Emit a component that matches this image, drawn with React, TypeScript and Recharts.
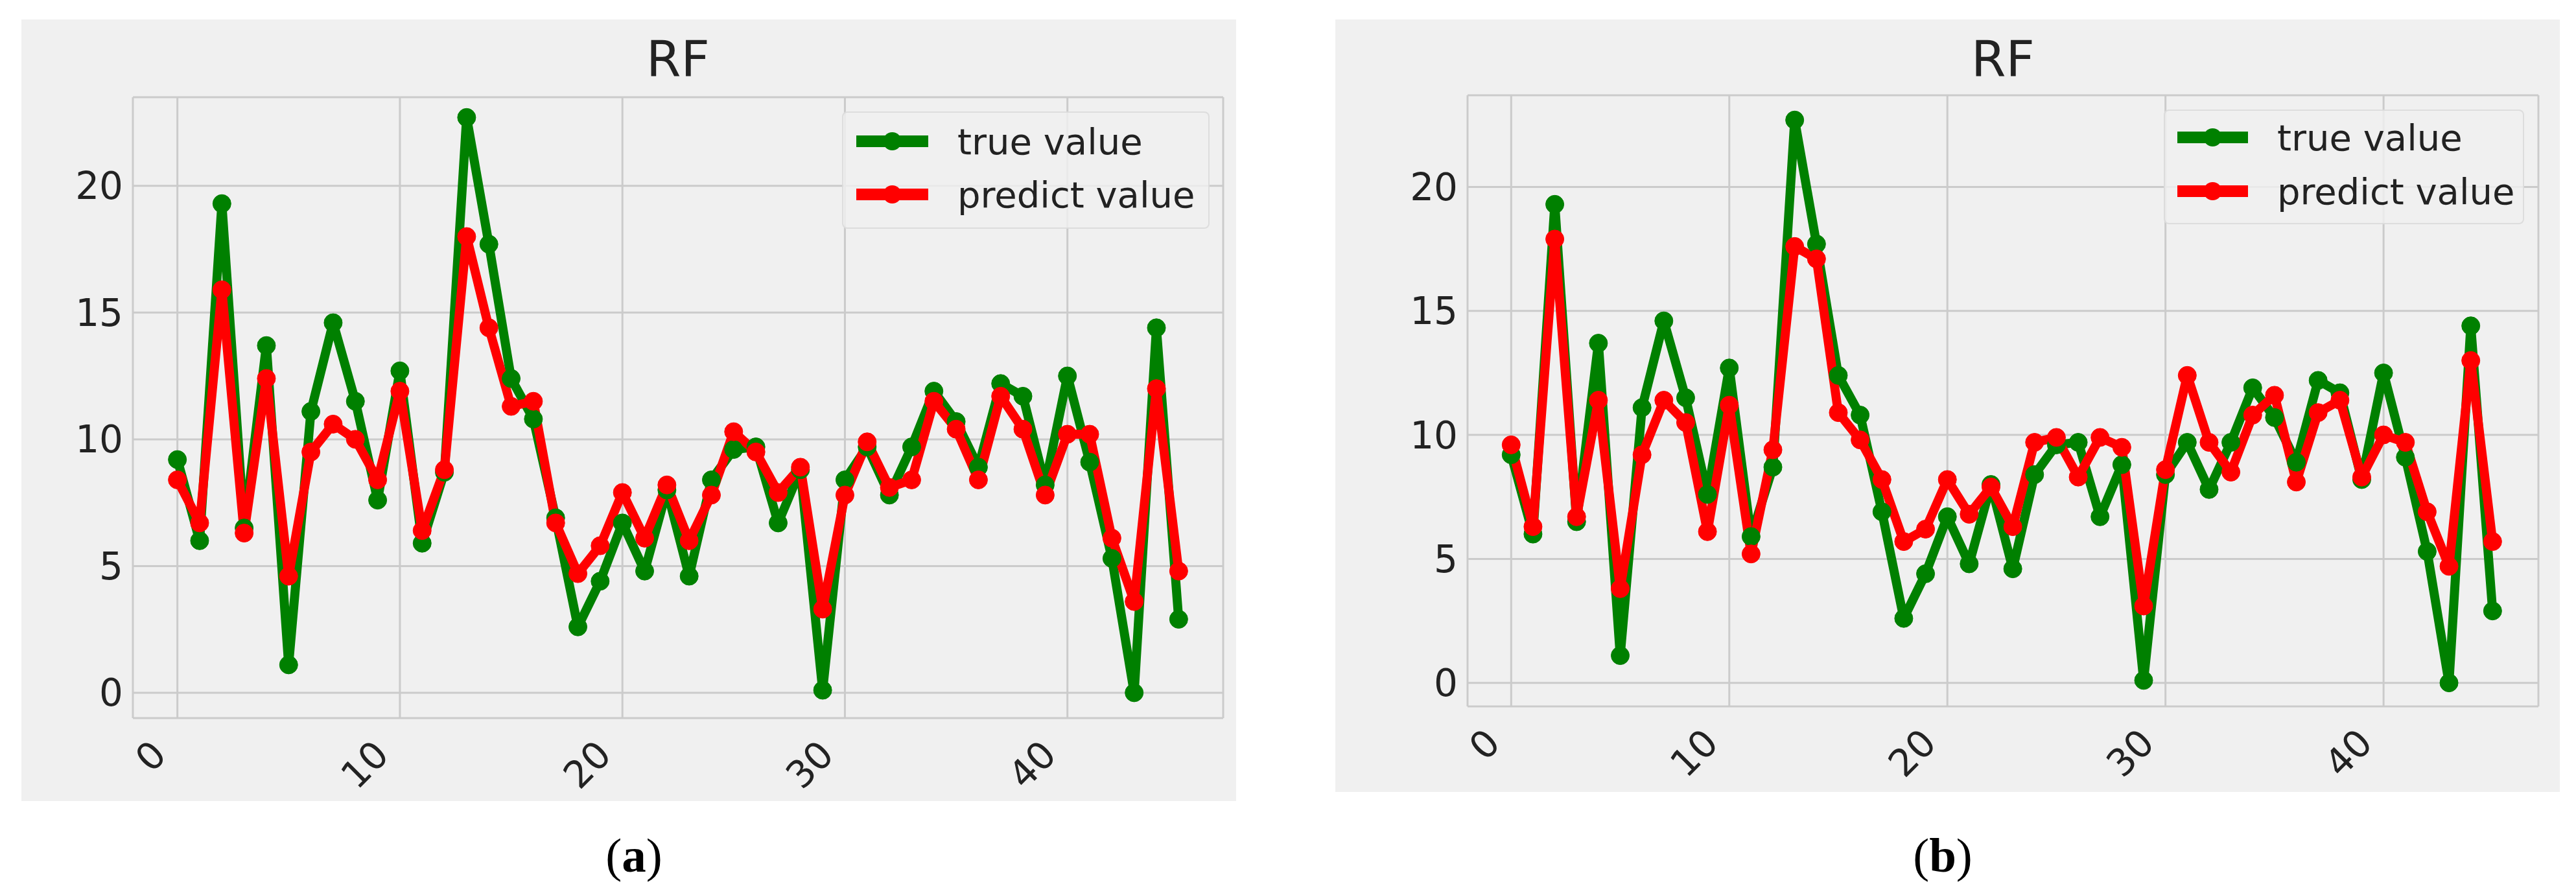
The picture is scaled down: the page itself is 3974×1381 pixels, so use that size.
import React from 'react'
import { LineChart, Line, XAxis, YAxis, CartesianGrid, Legend } from 'recharts'

// values, sample index 0..45
const trueValue = [
  9.2, 6.0, 19.3, 6.5, 13.7, 1.1, 11.1, 14.6, 11.5, 7.6,
  12.7, 5.9, 8.7, 22.7, 17.7, 12.4, 10.8, 6.9, 2.6, 4.4,
  6.7, 4.8, 8.0, 4.6, 8.4, 9.6, 9.7, 6.7, 8.8, 0.1,
  8.4, 9.7, 7.8, 9.7, 11.9, 10.7, 8.9, 12.2, 11.7, 8.2,
  12.5, 9.1, 5.3, 0.0, 14.4, 2.9,
]
const predictA = [
  8.4, 6.7, 15.9, 6.3, 12.4, 4.6, 9.5, 10.6, 10.0, 8.4,
  11.9, 6.4, 8.8, 18.0, 14.4, 11.3, 11.5, 6.7, 4.7, 5.8,
  7.9, 6.1, 8.2, 6.0, 7.8, 10.3, 9.5, 7.9, 8.9, 3.3,
  7.8, 9.9, 8.1, 8.4, 11.5, 10.4, 8.4, 11.7, 10.4, 7.8,
  10.2, 10.2, 6.1, 3.6, 12.0, 4.8,
]
const predictB = [
  9.6, 6.3, 17.9, 6.7, 11.4, 3.8, 9.2, 11.4, 10.5, 6.1,
  11.2, 5.2, 9.4, 17.6, 17.1, 10.9, 9.8, 8.2, 5.7, 6.2,
  8.2, 6.8, 7.9, 6.3, 9.7, 9.9, 8.3, 9.9, 9.5, 3.1,
  8.6, 12.4, 9.7, 8.5, 10.8, 11.6, 8.1, 10.9, 11.4, 8.3,
  10.0, 9.7, 6.9, 4.7, 13.0, 5.7,
]
const xTicks = [0, 10, 20, 30, 40]
const yTicks = [0, 5, 10, 15, 20]
const seriesNames = ['true value', 'predict value']
const panelTitles = ['RF', 'RF']
const captions = ['a', 'b']

const GREEN = '#008000'
const RED = '#ff0000'
const TEXT = '#222222'
const FONT = '"DejaVu Sans", sans-serif'

const panels = [
  {
    predict: predictA,
    left: 33, top: 30, width: 1874, height: 1206,
    marginRight: 20, marginTop: 120, yAxisWidth: 172, xAxisHeight: 128,
    xDomain: [-2, 47], yDomain: [-1, 23.5],
    legend: { left: 1266, top: 142, width: 567, height: 181, x0: 22, x1: 133, rows: [46, 128], textX: 178 },
    titleX: 1046, captionX: 978,
  },
  {
    predict: predictB,
    left: 2060, top: 30, width: 1889, height: 1192,
    marginRight: 33, marginTop: 117, yAxisWidth: 204, xAxisHeight: 132,
    xDomain: [-2, 47.1], yDomain: [-0.95, 23.7],
    legend: { left: 1278, top: 139, width: 556, height: 177, x0: 21, x1: 130, rows: [43, 126], textX: 175 },
    titleX: 3090, captionX: 2997,
  },
]

function RotatedTick(props: any) {
  const { x, y, payload } = props
  const ax = x - 14
  const ay = y + 60
  return (
    <text
      x={ax}
      y={ay}
      textAnchor="end"
      transform={`rotate(-45 ${ax} ${ay})`}
      fill={TEXT}
      fontSize={58}
      fontFamily={FONT}
    >
      {payload.value}
    </text>
  )
}

function makeLegend(lg: any) {
  return (props: any) => {
    // keep the plotting order: true value first
    const items = [...(props.payload || [])].sort(
      (a: any, b: any) => seriesNames.indexOf(a.value) - seriesNames.indexOf(b.value)
    )
    return (
      <div
        style={{
          width: lg.width,
          height: lg.height,
          boxSizing: 'border-box',
          background: 'rgba(240,240,240,0.8)',
          border: '2px solid rgba(215,215,215,0.8)',
          borderRadius: 8,
        }}
      >
        <svg width={lg.width} height={lg.height} style={{ position: 'absolute', left: 0, top: 0 }}>
          {items.map((it: any, i: number) => {
            const yy = lg.rows[i]
            return (
              <g key={it.value}>
                <line x1={lg.x0} x2={lg.x1} y1={yy} y2={yy} stroke={it.color} strokeWidth={18} />
                <circle cx={(lg.x0 + lg.x1) / 2} cy={yy} r={14} fill={it.color} />
                <text x={lg.textX} y={yy + 20} fontSize={56} fontFamily={FONT} fill={TEXT}>
                  {it.value}
                </text>
              </g>
            )
          })}
        </svg>
      </div>
    )
  }
}

function Panel({ p }: { p: any }) {
  const rows = trueValue.map((v, i) => ({ idx: i, actual: v, predicted: p.predict[i] }))
  return (
    <div style={{ position: 'absolute', left: p.left, top: p.top, width: p.width, height: p.height, background: '#f0f0f0' }}>
      <LineChart
        width={p.width}
        height={p.height}
        data={rows}
        margin={{ top: p.marginTop, right: p.marginRight, bottom: 0, left: 0 }}
      >
        <CartesianGrid stroke="#cbcbcb" strokeWidth={3} />
        <XAxis
          dataKey="idx"
          type="number"
          domain={p.xDomain}
          ticks={xTicks}
          height={p.xAxisHeight}
          axisLine={false}
          tickLine={false}
          tickSize={0}
          tickMargin={0}
          tick={<RotatedTick />}
          interval={0}
        />
        <YAxis
          type="number"
          domain={p.yDomain}
          ticks={yTicks}
          width={p.yAxisWidth}
          axisLine={false}
          tickLine={false}
          tickSize={0}
          tickMargin={15}
          interval={0}
          tick={{ fill: TEXT, fontSize: 58, fontFamily: FONT }}
        />
        <Legend
          layout="horizontal"
          align="center"
          verticalAlign="middle"
          content={makeLegend(p.legend)}
          wrapperStyle={{ position: 'absolute', left: p.legend.left, top: p.legend.top, width: p.legend.width, height: p.legend.height }}
        />
        <Line
          name={seriesNames[0]}
          type="linear"
          dataKey="actual"
          stroke={GREEN}
          strokeWidth={14}
          strokeLinejoin="round"
          dot={{ r: 14, fill: GREEN, stroke: GREEN, strokeWidth: 1 }}
          activeDot={false}
          isAnimationActive={false}
        />
        <Line
          name={seriesNames[1]}
          type="linear"
          dataKey="predicted"
          stroke={RED}
          strokeWidth={14}
          strokeLinejoin="round"
          dot={{ r: 14, fill: RED, stroke: RED, strokeWidth: 1 }}
          activeDot={false}
          isAnimationActive={false}
        />
      </LineChart>
    </div>
  )
}

export default function App() {
  return (
    <div style={{ position: 'absolute', left: 0, top: 0, width: 3974, height: 1381, background: '#ffffff', overflow: 'hidden' }}>
      {panels.map((p, i) => (
        <Panel key={i} p={p} />
      ))}
      <svg width={3974} height={1381} style={{ position: 'absolute', left: 0, top: 0, pointerEvents: 'none' }}>
        {panels.map((p, i) => (
          <g key={i}>
            <text x={p.titleX} y={118} textAnchor="middle" fontSize={77} fontFamily={FONT} fill={TEXT}>
              {panelTitles[i]}
            </text>
            <text x={p.captionX} y={1345} textAnchor="middle" fontSize={75} fontFamily='"Liberation Serif", serif' fill="#000">
              (<tspan fontWeight="bold">{captions[i]}</tspan>)
            </text>
          </g>
        ))}
      </svg>
    </div>
  )
}
